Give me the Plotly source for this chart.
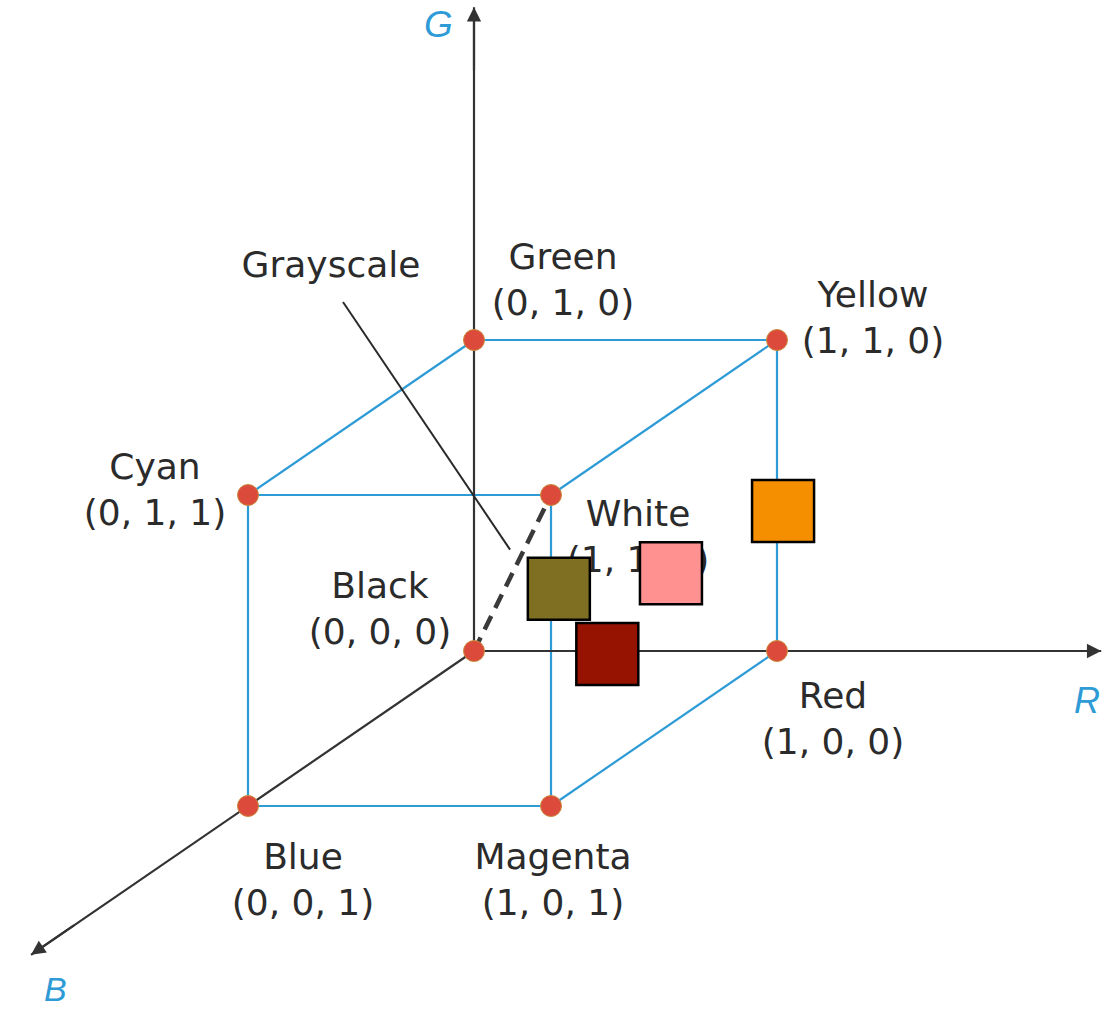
import plotly.graph_objects as go

# ---- data ----
vertex_names = ["Black", "Red", "Green", "Blue", "Yellow", "Cyan", "Magenta", "White"]
vertex_r = [0, 1, 0, 0, 1, 0, 1, 1]
vertex_g = [0, 0, 1, 0, 1, 1, 0, 1]
vertex_b = [0, 0, 0, 1, 0, 1, 1, 1]

axis_names = ["R", "G", "B"]
axis_length = [2.07, 2.07, 1.96]

square_colors = ["#7f6f22", "#ff9191", "#951300", "#f58f00"]
square_r = [0.28, 0.65, 0.44, 1.02]
square_g = [0.20, 0.25, -0.01, 0.45]
square_b = [0, 0, 0, 0]

grayscale_label = "Grayscale"

# ---- projection (oblique, pixel space) ----
OX, OY = 474, 651
RX, RY = 303, 0
GX, GY = 0, -311
BX, BY = -226, 155


def proj(r, g, b):
    return OX + RX * r + GX * g + BX * b, OY + RY * r + GY * g + BY * b


W, H = 1102, 1009
TXT = "#2b2b2b"
BLUE = "#2e9bd6"
AX = "#333333"
FONT = "DejaVu Sans, Verdana, sans-serif"

fig = go.Figure()

# cube edges (not on the axes)
ex, ey = [], []
n = len(vertex_names)
for i in range(n):
    for j in range(i + 1, n):
        a = (vertex_r[i], vertex_g[i], vertex_b[i])
        b = (vertex_r[j], vertex_g[j], vertex_b[j])
        diff = sum(abs(p - q) for p, q in zip(a, b))
        if diff != 1:
            continue
        if a == (0, 0, 0) or b == (0, 0, 0):
            continue
        x1, y1 = proj(*a)
        x2, y2 = proj(*b)
        ex += [x1, x2, None]
        ey += [y1, y2, None]
fig.add_trace(go.Scatter(x=ex, y=ey, mode="lines", line=dict(color=BLUE, width=2.2),
                         hoverinfo="skip", showlegend=False))

# axes
for k, name in enumerate(axis_names):
    v = [0, 0, 0]
    v[k] = axis_length[k]
    x2, y2 = proj(*v)
    fig.add_trace(go.Scatter(x=[OX, x2], y=[OY, y2], mode="lines",
                             line=dict(color=AX, width=2.2), hoverinfo="skip", showlegend=False))
    v2 = [0, 0, 0]
    v2[k] = axis_length[k] * 0.9
    xa, ya = proj(*v2)
    fig.add_annotation(x=x2, y=y2, ax=xa, ay=ya, xref="x", yref="y", axref="x", ayref="y",
                       text="", showarrow=True, arrowhead=2, arrowsize=1.3, arrowwidth=2.2,
                       arrowcolor=AX)

# axis letters
letter_offsets = {"R": (-14, 49), "G": (-36, 17), "B": (24, 34)}
letter_sizes = {"R": 36, "G": 37, "B": 34}
for k, name in enumerate(axis_names):
    v = [0, 0, 0]
    v[k] = axis_length[k]
    x2, y2 = proj(*v)
    dx, dy = letter_offsets[name]
    fig.add_annotation(x=x2 + dx, y=y2 + dy, xref="x", yref="y", text=name, showarrow=False,
                       borderpad=0,
                       font=dict(family="Liberation Sans, Arial, sans-serif", size=letter_sizes[name],
                                 color=BLUE, style="italic"))

# grayscale diagonal (black -> white)
bx, by = proj(0, 0, 0)
wx, wy = proj(1, 1, 1)
fig.add_trace(go.Scatter(x=[bx, wx], y=[by, wy], mode="lines",
                         line=dict(color="#3a3a3a", width=4.5, dash="15px,9px"),
                         hoverinfo="skip", showlegend=False))

# grayscale pointer
t = 0.65
px, py = bx + (wx - bx) * t - 14, by + (wy - by) * t
fig.add_trace(go.Scatter(x=[343, px], y=[302, py], mode="lines",
                         line=dict(color="#2a2a2a", width=2), hoverinfo="skip", showlegend=False))

# vertex dots
vx, vy = zip(*[proj(r, g, b) for r, g, b in zip(vertex_r, vertex_g, vertex_b)])
fig.add_trace(go.Scatter(x=list(vx), y=list(vy), mode="markers",
                         marker=dict(size=21, color="#dc4a3c", line=dict(color="#c98a3a", width=1)),
                         hoverinfo="skip", showlegend=False))

# vertex labels
label_offsets = {
    "Black": (-94, -39), "Red": (56, 71), "Green": (89, -57), "Blue": (55, 77),
    "Yellow": (96, -19), "Cyan": (-93, -2), "Magenta": (2, 77), "White": (87, 45),
}
lx, ly, lt = [], [], []
for name, r, g, b in zip(vertex_names, vertex_r, vertex_g, vertex_b):
    x, y = proj(r, g, b)
    dx, dy = label_offsets[name]
    lx.append(x + dx)
    ly.append(y + dy)
    lt.append(f"{name}<br>({r}, {g}, {b})")
lx.append(331)
ly.append(268)
lt.append(grayscale_label)
fig.add_trace(go.Scatter(x=lx, y=ly, mode="text", text=lt, textposition="middle center",
                         textfont=dict(family=FONT, size=36, color=TXT),
                         hoverinfo="skip", showlegend=False))

# colored squares (drawn on top)
sx, sy = zip(*[proj(r, g, b) for r, g, b in zip(square_r, square_g, square_b)])
fig.add_trace(go.Scatter(x=list(sx), y=list(sy), mode="markers",
                         marker=dict(symbol="square", size=62, color=square_colors,
                                     line=dict(color="black", width=2.5)),
                         hoverinfo="skip", showlegend=False))

fig.update_layout(
    width=W, height=H, margin=dict(l=0, r=0, t=0, b=0),
    paper_bgcolor="white", plot_bgcolor="white",
    xaxis=dict(range=[0, W], visible=False, fixedrange=True),
    yaxis=dict(range=[H, 0], visible=False, fixedrange=True),
    showlegend=False,
)

fig.write_html("out.html", config={"displayModeBar": False},
               post_script="document.body.style.margin='0';document.body.style.overflow='hidden';")
